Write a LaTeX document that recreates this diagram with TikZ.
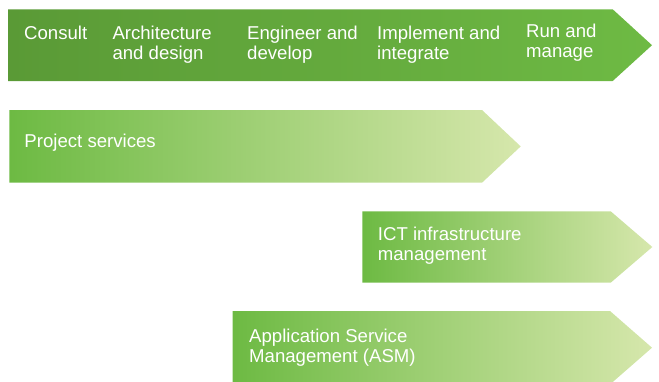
\documentclass[tikz,border=0pt]{standalone}
\usepackage{fontspec}
\setmainfont{Liberation Sans}
\begin{document}
\begin{tikzpicture}[x=1bp,y=-1bp,
  phasebar/.style={left color=phaseDark, middle color=phaseLight, right color=phaseLight},
  servicebar/.style={left color=svcLeft, right color=svcRight},
  label/.style={text=white, inner sep=0pt, anchor=base west, align=left,
    font=\fontsize{18.6bp}{20bp}\selectfont}]
  \definecolor{phaseDark}{HTML}{5A9A36}
  \definecolor{phaseLight}{HTML}{6EBA44}
  \definecolor{svcLeft}{HTML}{6DBA43}
  \definecolor{svcRight}{HTML}{D6E7AC}
  \useasboundingbox (0,0) rectangle (659,381);

  % lifecycle phases (base anchor of two-line labels sits on the second line)
  \shade[phasebar] (8,9.3) -- (612.7,9.3) -- (652,45.2) -- (612.7,81) -- (8,81) -- cycle;
  \node[label] (consult) at (24,39.3) {Consult};
  \node[label] (arch) at (112.3,59.3) {Architecture\\and design};
  \node[label] (eng) at (247,59.3) {Engineer and\\develop};
  \node[label] (impl) at (377,59.3) {Implement and\\integrate};
  \node[label] (run) at (526,57.6) {Run and\\manage};

  % service lines
  \shade[servicebar] (9.3,110) -- (482,110) -- (520.7,146.4) -- (482,182.7) -- (9.3,182.7) -- cycle;
  \node[label] (proj) at (24.3,147.5) {Project services};

  \shade[servicebar] (362.3,211.3) -- (610.7,211.3) -- (652.3,247) -- (610.7,282.7) -- (362.3,282.7) -- cycle;
  \node[label] (ict) at (377.7,260) {ICT infrastructure\\management};

  \shade[servicebar] (232.7,311) -- (610,311) -- (652,347.7) -- (610,384.4) -- (232.7,384.4) -- cycle;
  \node[label] (asm) at (249,362) {Application Service\\Management (ASM)};
\end{tikzpicture}
\end{document}
